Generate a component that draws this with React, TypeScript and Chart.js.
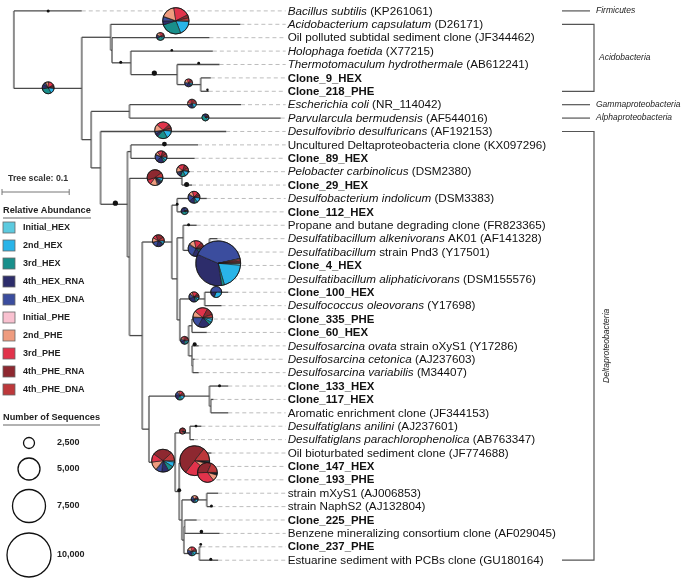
import React, { useEffect, useRef } from 'react';
import { Chart, registerables, ArcElement } from 'chart.js';

Chart.register(...registerables);

// ---------- DATA ----------
const categoryNames = ['Initial_HEX', '2nd_HEX', '3rd_HEX', '4th_HEX_RNA', '4th_HEX_DNA', 'Initial_PHE', '2nd_PHE', '3rd_PHE', '4th_PHE_RNA', '4th_PHE_DNA'];
const categoryColors = ['#5ccadf', '#29b4e8', '#198f8b', '#2d2d6b', '#3b4d9e', '#f9c1d0', '#ef9c7f', '#e1334b', '#8e2830', '#bd383b'];

const leafLabels = [
  '{Bacillus subtilis} (KP261061)',
  '{Acidobacterium capsulatum} (D26171)',
  'Oil polluted subtidal sediment clone (JF344462)',
  '{Holophaga foetida} (X77215)',
  '{Thermotomaculum hydrothermale} (AB612241)',
  'Clone_9_HEX',
  'Clone_218_PHE',
  '{Escherichia coli} (NR_114042)',
  '{Parvularcula bermudensis} (AF544016)',
  '{Desulfovibrio desulfuricans} (AF192153)',
  'Uncultured Deltaproteobacteria clone (KX097296)',
  'Clone_89_HEX',
  '{Pelobacter carbinolicus} (DSM2380)',
  'Clone_29_HEX',
  '{Desulfobacterium indolicum} (DSM3383)',
  'Clone_112_HEX',
  'Propane and butane degrading clone (FR823365)',
  '{Desulfatibacillum alkenivorans} AK01 (AF141328)',
  '{Desulfatibacillum} strain Pnd3 (Y17501)',
  'Clone_4_HEX',
  '{Desulfatibacillum aliphaticivorans} (DSM155576)',
  'Clone_100_HEX',
  '{Desulfococcus oleovorans} (Y17698)',
  'Clone_335_PHE',
  'Clone_60_HEX',
  '{Desulfosarcina ovata} strain oXyS1 (Y17286)',
  '{Desulfosarcina cetonica} (AJ237603)',
  '{Desulfosarcina variabilis} (M34407)',
  'Clone_133_HEX',
  'Clone_117_HEX',
  'Aromatic enrichment clone (JF344153)',
  '{Desulfatiglans anilini} (AJ237601)',
  '{Desulfatiglans parachlorophenolica} (AB763347)',
  'Oil bioturbated sediment clone (JF774688)',
  'Clone_147_HEX',
  'Clone_193_PHE',
  'strain mXyS1 (AJ006853)',
  'strain NaphS2 (AJ132804)',
  'Clone_225_PHE',
  'Benzene mineralizing consortium clone (AF029045)',
  'Clone_237_PHE',
  'Estuarine sediment with PCBs clone (GU180164)',
];

// tip depth of each leaf (tree units, substitutions per site)
const leafTipX = [
  0.101, 0.337, 0.291, 0.296, 0.306, 0.293, 0.290, 0.338, 0.397, 0.316,
  0.274, 0.269, 0.262, 0.265, 0.287, 0.260, 0.272, 0.303, 0.312, 0.318,
  0.315, 0.319, 0.309, 0.287, 0.287, 0.275, 0.269, 0.275, 0.319, 0.297,
  0.319, 0.279, 0.268, 0.294, 0.291, 0.291, 0.304, 0.294, 0.272, 0.306,
  0.279, 0.304,
];

// internal nodes: [id, depth, children (leaf index or node id)]
const treeNodes: [string, number, (number | string)[]][] = [
  ['root', 0.0, [0, 'ing']],
  ['ing', 0.101, ['acA', 'rest']],
  ['acA', 0.144, [1, 'acB']],
  ['acB', 0.146, [2, 'acC']],
  ['acC', 0.174, [3, 'acD']],
  ['acD', 0.243, [4, 'acE']],
  ['acE', 0.278, [5, 6]],
  ['rest', 0.115, ['ga', 'del']],
  ['ga', 0.172, [7, 8]],
  ['del', 0.129, [9, 'd1']],
  ['d1', 0.169, ['d2', 'd3']],
  ['d2', 0.174, [10, 11]],
  ['d3', 0.172, ['d4', 'd5']],
  ['d4', 0.250, [12, 13]],
  ['d5', 0.191, ['d6', 'p1']],
  ['d6', 0.235, ['d7', 'd8']],
  ['d7', 0.243, [14, 15]],
  ['d8', 0.243, ['d9', 'd13']],
  ['d9', 0.252, [16, 'd10']],
  ['d10', 0.291, [17, 'd11']],
  ['d11', 0.297, [18, 'd12']],
  ['d12', 0.303, [19, 20]],
  ['d13', 0.247, ['d14', 'd15']],
  ['d14', 0.284, [21, 22]],
  ['d15', 0.260, ['d16', 'd17']],
  ['d16', 0.265, [23, 24]],
  ['d17', 0.265, [25, 'd18']],
  ['d18', 0.266, [26, 27]],
  ['p1', 0.201, ['p2', 'p4']],
  ['p2', 0.291, [28, 'p3']],
  ['p3', 0.293, [29, 30]],
  ['p4', 0.240, ['p5', 'p6']],
  ['p5', 0.262, [31, 32]],
  ['p6', 0.246, ['p7', 'p9']],
  ['p7', 0.279, [33, 'p8']],
  ['p8', 0.287, [34, 35]],
  ['p9', 0.250, ['p10', 'p11']],
  ['p10', 0.287, [36, 37]],
  ['p11', 0.253, ['p12', 'p13']],
  ['p12', 0.254, [38, 39]],
  ['p13', 0.276, [40, 41]],
];

// support dots on branches: depth, row, size
const dotX = [0.051, 0.159, 0.209, 0.235, 0.275, 0.288, 0.224, 0.151, 0.257, 0.243, 0.260, 0.269, 0.306, 0.271, 0.246, 0.279, 0.294, 0.293, 0.278];
const dotY = [0.0, 3.83, 4.64, 2.94, 3.90, 5.89, 9.94, 14.35, 12.96, 14.43, 15.97, 24.88, 27.97, 30.99, 35.77, 38.87, 36.95, 40.93, 39.82];
const dotR = [1.5, 1.5, 2.6, 1.3, 1.4, 1.2, 2.4, 2.6, 2.5, 1.4, 1.5, 2.0, 1.5, 1.4, 2.0, 1.8, 1.5, 1.5, 1.4];

// pie charts (relative abundance per node): depth, row, number of sequences, shares (%)
const pieX = [0.051, 0.241, 0.218, 0.260, 0.265, 0.285, 0.222, 0.219, 0.210, 0.251, 0.215, 0.268, 0.254, 0.271, 0.304, 0.301, 0.268, 0.281, 0.254, 0.247, 0.251, 0.222, 0.269, 0.288, 0.269, 0.265];
const pieY = [5.74, 0.74, 1.91, 5.37, 6.92, 7.95, 8.91, 10.89, 12.44, 11.92, 17.15, 13.91, 14.94, 17.74, 18.84, 20.98, 21.35, 22.89, 24.59, 28.71, 31.36, 33.57, 33.57, 34.45, 36.44, 40.34];
const pieTotal = [2700, 6000, 1800, 1800, 2000, 1600, 3800, 2700, 3600, 2700, 2700, 2700, 1600, 3600, 10200, 2500, 2300, 4500, 1800, 2000, 1400, 5200, 6800, 4500, 1600, 2000];
const pieShares = [
  [2, 15, 30, 14, 6, 1, 8, 16, 5, 3],
  [1, 18, 26, 5, 5, 0.5, 17, 20, 4, 3.5],
  [2, 8, 30, 12, 5, 1, 15, 15, 8, 4],
  [2, 8, 5, 20, 15, 2, 15, 15, 10, 8],
  [2, 15, 5, 15, 8, 2, 8, 15, 20, 10],
  [3, 10, 50, 20, 5, 1, 3, 3, 3, 2],
  [2, 15, 20, 6, 4, 1, 14, 26, 8, 4],
  [2, 8, 8, 20, 18, 1, 8, 15, 12, 8],
  [1, 6, 3, 5, 3, 2, 15, 10, 45, 10],
  [3, 14, 14, 8, 5, 2, 15, 20, 12, 7],
  [1, 8, 3, 18, 15, 1, 12, 10, 22, 10],
  [2, 14, 8, 15, 18, 2, 12, 16, 8, 5],
  [3, 10, 30, 35, 15, 1, 2, 2, 1, 1],
  [1, 4, 8, 20, 25, 2, 12, 15, 9, 4],
  [1.5, 19, 2, 34, 40, 0.3, 0.7, 1, 1, 0.5],
  [1, 30, 2, 17, 50, 0, 0, 0, 0, 0],
  [2, 8, 10, 25, 15, 1, 8, 18, 8, 5],
  [3, 5, 5, 20, 17, 1, 10, 22, 12, 5],
  [2, 8, 15, 20, 10, 1, 8, 12, 16, 8],
  [3, 15, 15, 20, 12, 1, 6, 14, 8, 6],
  [1, 3, 3, 5, 5, 1, 10, 15, 45, 12],
  [2, 7, 8, 10, 8, 1, 12, 12, 28, 12],
  [0.5, 1, 0.5, 0.5, 0.5, 0.5, 8, 24, 50, 14.5],
  [0.5, 1, 0.5, 1, 1, 0.5, 10, 35, 32, 18.5],
  [3, 15, 10, 20, 15, 2, 20, 8, 5, 2],
  [2, 12, 12, 18, 10, 2, 15, 18, 7, 4],
];

const sizeLegendValues = [2500, 5000, 7500, 10000];
const sizeLegendLabels = ['2,500', '5,000', '7,500', '10,000'];

const cladeNames = ['Firmicutes', 'Acidobacteria', 'Gammaproteobacteria', 'Alphaproteobacteria', 'Deltaproteobacteria'];
const cladeFirst = [0, 1, 7, 8, 9];
const cladeLast = [0, 6, 7, 8, 41];

const treeScaleValue = 0.1;

// ---------- helpers ----------
const FONT = '"Liberation Sans", Arial, Helvetica, sans-serif';
const LABEL_X = 0.4044; // where leader lines end (tree units)
const RADIUS_PER_SEQ = 0.0022;

function buildTree() {
  const map = new Map<string, [string, number, (number | string)[]]>();
  treeNodes.forEach((n) => map.set(n[0], n));
  const yCache = new Map<string, number>();
  const yOf = (c: number | string): number => {
    if (typeof c === 'number') return c;
    if (yCache.has(c)) return yCache.get(c)!;
    const n = map.get(c)!;
    const ys = n[2].map(yOf);
    const v = (ys[0] + ys[ys.length - 1]) / 2;
    yCache.set(c, v);
    return v;
  };
  const xOf = (c: number | string): number => (typeof c === 'number' ? leafTipX[c] : map.get(c)![1]);
  const vertical: { x: number; y: number }[][] = [];
  const horizontal: { x: number; y: number }[][] = [];
  treeNodes.forEach(([, nx, kids]) => {
    const ys = kids.map(yOf);
    vertical.push([{ x: nx, y: ys[0] }, { x: nx, y: ys[ys.length - 1] }]);
    kids.forEach((k) => {
      const ky = yOf(k);
      horizontal.push([{ x: nx, y: ky }, { x: xOf(k), y: ky }]);
    });
  });
  const leaders: { x: number; y: number }[][] = [];
  leafTipX.forEach((tx, i) => {
    if (tx < LABEL_X) leaders.push([{ x: tx, y: i }, { x: LABEL_X, y: i }]);
  });
  return { vertical, horizontal, leaders };
}

function drawRichLabel(ctx: CanvasRenderingContext2D, text: string, x: number, y: number) {
  const bold = text.startsWith('Clone_');
  const parts = text.split(/(\{[^}]*\})/).filter((p) => p.length);
  let cx = x;
  parts.forEach((p) => {
    const italic = p.startsWith('{');
    const s = italic ? p.slice(1, -1) : p;
    ctx.font = `${italic ? 'italic ' : ''}${bold ? 'bold ' : ''}${bold ? 11.4 : 11.7}px ${FONT}`;
    ctx.fillText(s, cx, y);
    cx += ctx.measureText(s).width;
  });
}

const overlayPlugin = {
  id: 'treeOverlay',
  afterDatasetsDraw(chart: any) {
    const ctx: CanvasRenderingContext2D = chart.ctx;
    const xs = chart.scales.x;
    const ys = chart.scales.y;
    ctx.save();

    // pies
    pieX.forEach((px, i) => {
      const cx = xs.getPixelForValue(px);
      const cy = ys.getPixelForValue(pieY[i]);
      const r = pieTotal[i] * RADIUS_PER_SEQ;
      const shares = pieShares[i];
      const sum = shares.reduce((a, b) => a + b, 0);
      let a0 = 0;
      shares.forEach((s, k) => {
        if (s <= 0) return;
        const a1 = a0 + (s / sum) * Math.PI * 2;
        const arc = new (ArcElement as any)({
          x: cx,
          y: cy,
          startAngle: a0,
          endAngle: a1,
          circumference: a1 - a0,
          innerRadius: 0,
          outerRadius: r,
          options: {
            backgroundColor: categoryColors[k],
            borderColor: '#1a1a1a',
            borderWidth: r > 5 ? 0.6 : 0.4,
            borderAlign: 'center',
            borderJoinStyle: 'bevel',
            borderDash: [],
            borderDashOffset: 0,
            borderRadius: 0,
            offset: 0,
            spacing: 0,
            circular: true,
          },
        });
        arc.draw(ctx);
        a0 = a1;
      });
      ctx.beginPath();
      ctx.arc(cx, cy, r, 0, Math.PI * 2);
      ctx.strokeStyle = '#111';
      ctx.lineWidth = 0.8;
      ctx.stroke();
    });

    // leaf labels
    ctx.fillStyle = '#111';
    ctx.textBaseline = 'middle';
    ctx.textAlign = 'left';
    const lx = xs.getPixelForValue(LABEL_X) + 2;
    leafLabels.forEach((t, i) => drawRichLabel(ctx, t, lx, ys.getPixelForValue(i) + 0.5));

    // clade brackets
    const bx0 = 562;
    const bx1 = 594;
    ctx.strokeStyle = '#555';
    ctx.lineWidth = 1.2;
    ctx.fillStyle = '#222';
    ctx.font = `italic 8.5px ${FONT}`;
    cladeNames.forEach((name, i) => {
      const y0 = ys.getPixelForValue(cladeFirst[i]);
      const y1 = ys.getPixelForValue(cladeLast[i]);
      ctx.beginPath();
      if (cladeFirst[i] === cladeLast[i]) {
        ctx.moveTo(bx0, y0);
        ctx.lineTo(bx1 - 4, y0);
        ctx.stroke();
        ctx.textAlign = 'left';
        ctx.fillText(name, bx1 + 2, y0);
      } else {
        ctx.moveTo(bx0, y0);
        ctx.lineTo(bx1, y0);
        ctx.lineTo(bx1, y1);
        ctx.lineTo(bx0, y1);
        ctx.stroke();
        const ym = (y0 + y1) / 2;
        if (y1 - y0 > 150) {
          ctx.save();
          ctx.translate(bx1 + 13, ym);
          ctx.rotate(-Math.PI / 2);
          ctx.textAlign = 'center';
          ctx.fillText(name, 0, 0);
          ctx.restore();
        } else {
          ctx.textAlign = 'left';
          ctx.fillText(name, bx1 + 5, ym);
        }
      }
    });

    // tree scale
    ctx.textAlign = 'left';
    ctx.fillStyle = '#333';
    ctx.font = `bold 8.8px ${FONT}`;
    ctx.fillText(`Tree scale: ${treeScaleValue}`, 8, 179);
    const sLen = xs.getPixelForValue(treeScaleValue) - xs.getPixelForValue(0);
    ctx.strokeStyle = '#777';
    ctx.lineWidth = 1;
    ctx.beginPath();
    ctx.moveTo(2, 192);
    ctx.lineTo(2 + sLen, 192);
    ctx.moveTo(2, 189);
    ctx.lineTo(2, 195);
    ctx.moveTo(2 + sLen, 189);
    ctx.lineTo(2 + sLen, 195);
    ctx.stroke();

    // relative abundance legend
    ctx.fillStyle = '#222';
    ctx.font = `bold 9.2px ${FONT}`;
    ctx.fillText('Relative Abundance', 3, 210);
    ctx.strokeStyle = '#999';
    ctx.lineWidth = 1.5;
    ctx.beginPath();
    ctx.moveTo(3, 218);
    ctx.lineTo(91, 218);
    ctx.stroke();
    categoryNames.forEach((n, i) => {
      const y = 222 + i * 18;
      ctx.fillStyle = categoryColors[i];
      ctx.fillRect(3, y, 12, 11);
      ctx.strokeStyle = '#666';
      ctx.lineWidth = 0.8;
      ctx.strokeRect(3, y, 12, 11);
      ctx.fillStyle = '#222';
      ctx.font = `bold 9px ${FONT}`;
      ctx.fillText(n, 23, y + 6);
    });

    // number of sequences legend
    ctx.font = `bold 9.2px ${FONT}`;
    ctx.fillText('Number of Sequences', 3, 417);
    ctx.strokeStyle = '#999';
    ctx.lineWidth = 1.5;
    ctx.beginPath();
    ctx.moveTo(3, 425);
    ctx.lineTo(100, 425);
    ctx.stroke();
    const circY = [443, 469, 506, 555];
    sizeLegendValues.forEach((v, i) => {
      ctx.beginPath();
      ctx.arc(29, circY[i], v * RADIUS_PER_SEQ, 0, Math.PI * 2);
      ctx.strokeStyle = '#111';
      ctx.lineWidth = 1.3;
      ctx.stroke();
      ctx.fillStyle = '#222';
      ctx.font = `bold 9px ${FONT}`;
      ctx.fillText(sizeLegendLabels[i], 57, circY[i]);
    });

    ctx.restore();
  },
};

export default function App() {
  const ref = useRef<HTMLCanvasElement>(null);
  useEffect(() => {
    if (!ref.current) return;
    const { vertical, horizontal, leaders } = buildTree();
    const datasets: any[] = [];
    datasets.push({
      type: 'scatter',
      data: dotX.map((x, i) => ({ x, y: dotY[i] })),
      pointRadius: dotR,
      pointBackgroundColor: '#111',
      pointBorderWidth: 0,
      showLine: false,
    });
    horizontal.forEach((seg) =>
      datasets.push({ type: 'line', data: seg, borderColor: '#4a4a4a', borderWidth: 1.3, pointRadius: 0, fill: false })
    );
    vertical.forEach((seg) =>
      datasets.push({ type: 'line', data: seg, borderColor: '#8c8c8c', borderWidth: 2, pointRadius: 0, fill: false })
    );
    leaders.forEach((seg) =>
      datasets.push({ type: 'line', data: seg, borderColor: '#bdbdbd', borderWidth: 1, borderDash: [4, 3], pointRadius: 0, fill: false })
    );
    const chart = new Chart(ref.current, {
      type: 'scatter',
      data: { datasets },
      options: {
        animation: false,
        responsive: false,
        events: [],
        layout: { padding: 0 },
        plugins: { legend: { display: false }, tooltip: { enabled: false } },
        scales: {
          x: { type: 'linear', min: -10 / 680, max: 675 / 680, display: false },
          y: { type: 'linear', min: -7 / 13.585, max: 573 / 13.585, reverse: true, display: false },
        },
      },
      plugins: [overlayPlugin],
    } as any);
    return () => chart.destroy();
  }, []);
  return (
    <div style={{ position: 'fixed', left: 0, top: 0, width: 685, height: 580, background: '#fff' }}>
      <canvas ref={ref} width={685} height={580} style={{ width: 685, height: 580, display: 'block' }} />
    </div>
  );
}
